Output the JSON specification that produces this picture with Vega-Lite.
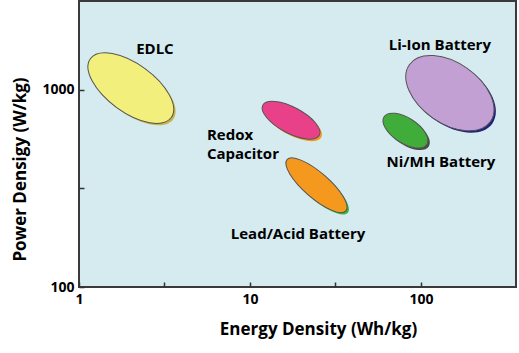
{
  "$schema": "https://vega.github.io/schema/vega-lite/v6.json",
  "autosize": {"type": "none"},
  "padding": {"left": 79, "top": 1, "right": 3, "bottom": 66},
  "width": 437,
  "height": 286,
  "config": {
    "font": "Open Sans",
    "view": {"fill": "#d5ebf0", "stroke": "#3a3a3a", "strokeWidth": 2},
    "axis": {
      "domain": false, "grid": false,
      "tickColor": "#333333", "tickSize": -5, "tickWidth": 1.5,
      "labelPadding": 10, "labelFont": "Open Sans", "labelFontWeight": "bold",
      "labelFontSize": 14, "labelColor": "#000000",
      "titleFont": "Open Sans", "titleFontWeight": "bold", "titleFontSize": 17, "titleColor": "#000000"
    }
  },
  "datasets": {
    "ellipses": [
      {"name": "EDLC", "energy": 2.01, "power": 1020},
      {"name": "Redox", "energy": 17.4, "power": 701},
      {"name": "Lead", "energy": 24.5, "power": 328},
      {"name": "LiIon", "energy": 147.8, "power": 962},
      {"name": "NiMH", "energy": 81.2, "power": 621}
    ],
    "labels": [
      {"label": "EDLC", "energy": 2.78, "power": 1610},
      {"label": "Li-Ion Battery", "energy": 129, "power": 1687},
      {"label": "Ni/MH Battery", "energy": 131, "power": 430},
      {"label": "Lead/Acid Battery", "energy": 19.1, "power": 185}
    ],
    "labels2": [
      {"label": "Redox\nCapacitor", "energy": 5.6, "power": 590}
    ]
  },
  "data": {"name": "ellipses"},
  "encoding": {
    "x": {
      "field": "energy", "type": "quantitative",
      "scale": {"type": "log", "domain": [1, 360], "nice": false, "zero": false},
      "axis": {
        "title": "Energy Density (Wh/kg)", "titlePadding": 15, "titleX": 239, "titleAnchor": "start", "titleAlign": "center",
        "values": [1, 3.1623, 10, 31.623, 100],
        "labelExpr": "(datum.value == 1 || datum.value == 10 || datum.value == 100) ? datum.value : ''",
        "labelFlush": false
      }
    },
    "y": {
      "field": "power", "type": "quantitative",
      "scale": {"type": "log", "domain": [100, 2820], "nice": false, "zero": false},
      "axis": {
        "title": "Power Densigy (W/kg)", "titlePadding": 12, "titleY": 168, "titleAnchor": "start", "titleAlign": "center",
        "values": [100, 316.23, 1000],
        "labelExpr": "(datum.value == 100 || datum.value == 1000) ? datum.value : ''",
        "labelFlush": false
      }
    }
  },
  "layer": [
    {"transform": [{"filter": "datum.name == 'EDLC'"}],
     "mark": {"type": "point", "filled": true, "opacity": 1, "fill": "#c9b64a", "strokeWidth": 0, "size": 10000, "angle": 36,
       "shape": "M 1.054 0.009 C 1.054 0.2747 0.6063 0.49 0.054 0.49 C -0.4983 0.49 -0.946 0.2747 -0.946 0.009 C -0.946 -0.2567 -0.4983 -0.472 0.054 -0.472 C 0.6063 -0.472 1.054 -0.2567 1.054 0.009 Z"}},
    {"transform": [{"filter": "datum.name == 'EDLC'"}],
     "mark": {"type": "point", "filled": true, "opacity": 1, "fill": "#f3ef7c", "stroke": "#555555", "strokeWidth": 1, "size": 10000, "angle": 36,
       "shape": "M 1 0 C 1 0.2657 0.5523 0.481 0 0.481 C -0.5523 0.481 -1 0.2657 -1 0 C -1 -0.2657 -0.5523 -0.481 0 -0.481 C 0.5523 -0.481 1 -0.2657 1 0 Z"}},
    {"transform": [{"filter": "datum.name == 'Redox'"}],
     "mark": {"type": "point", "filled": true, "opacity": 1, "fill": "#f39a1e", "strokeWidth": 0, "size": 4096, "angle": 28,
       "shape": "M 1.085 0.026 C 1.085 0.2502 0.6373 0.432 0.085 0.432 C -0.4673 0.432 -0.915 0.2502 -0.915 0.026 C -0.915 -0.1982 -0.4673 -0.38 0.085 -0.38 C 0.6373 -0.38 1.085 -0.1982 1.085 0.026 Z"}},
    {"transform": [{"filter": "datum.name == 'Redox'"}],
     "mark": {"type": "point", "filled": true, "opacity": 1, "fill": "#e8418a", "stroke": "#555555", "strokeWidth": 1, "size": 4096, "angle": 28,
       "shape": "M 1 0 C 1 0.2242 0.5523 0.406 0 0.406 C -0.5523 0.406 -1 0.2242 -1 0 C -1 -0.2242 -0.5523 -0.406 0 -0.406 C 0.5523 -0.406 1 -0.2242 1 0 Z"}},
    {"transform": [{"filter": "datum.name == 'Lead'"}],
     "mark": {"type": "point", "filled": true, "opacity": 1, "fill": "#3cb43c", "strokeWidth": 0, "size": 6084, "angle": 41,
       "shape": "M 1.071 0.005 C 1.071 0.1845 0.6233 0.33 0.071 0.33 C -0.4813 0.33 -0.929 0.1845 -0.929 0.005 C -0.929 -0.1745 -0.4813 -0.32 0.071 -0.32 C 0.6233 -0.32 1.071 -0.1745 1.071 0.005 Z"}},
    {"transform": [{"filter": "datum.name == 'Lead'"}],
     "mark": {"type": "point", "filled": true, "opacity": 1, "fill": "#f4981e", "stroke": "#555555", "strokeWidth": 1, "size": 6084, "angle": 41,
       "shape": "M 1 0 C 1 0.1795 0.5523 0.325 0 0.325 C -0.5523 0.325 -1 0.1795 -1 0 C -1 -0.1795 -0.5523 -0.325 0 -0.325 C 0.5523 -0.325 1 -0.1795 1 0 Z"}},
    {"transform": [{"filter": "datum.name == 'LiIon'"}],
     "mark": {"type": "point", "filled": true, "opacity": 1, "fill": "#22227a", "strokeWidth": 0, "size": 9800, "angle": 35,
       "shape": "M 1.056 0.01 C 1.056 0.3469 0.6083 0.62 0.056 0.62 C -0.4963 0.62 -0.944 0.3469 -0.944 0.01 C -0.944 -0.3269 -0.4963 -0.6 0.056 -0.6 C 0.6083 -0.6 1.056 -0.3269 1.056 0.01 Z"}},
    {"transform": [{"filter": "datum.name == 'LiIon'"}],
     "mark": {"type": "point", "filled": true, "opacity": 1, "fill": "#c3a0d3", "stroke": "#555555", "strokeWidth": 1, "size": 9800, "angle": 35,
       "shape": "M 1 0 C 1 0.3369 0.5523 0.61 0 0.61 C -0.5523 0.61 -1 0.3369 -1 0 C -1 -0.3369 -0.5523 -0.61 0 -0.61 C 0.5523 -0.61 1 -0.3369 1 0 Z"}},
    {"transform": [{"filter": "datum.name == 'NiMH'"}],
     "mark": {"type": "point", "filled": true, "opacity": 1, "fill": "#4a4a4a", "strokeWidth": 0, "size": 2601, "angle": 33,
       "shape": "M 1.109 0.023 C 1.109 0.2958 0.6613 0.517 0.109 0.517 C -0.4433 0.517 -0.891 0.2958 -0.891 0.023 C -0.891 -0.2498 -0.4433 -0.471 0.109 -0.471 C 0.6613 -0.471 1.109 -0.2498 1.109 0.023 Z"}},
    {"transform": [{"filter": "datum.name == 'NiMH'"}],
     "mark": {"type": "point", "filled": true, "opacity": 1, "fill": "#40ad3a", "stroke": "#555555", "strokeWidth": 1, "size": 2601, "angle": 33,
       "shape": "M 1 0 C 1 0.2728 0.5523 0.494 0 0.494 C -0.5523 0.494 -1 0.2728 -1 0 C -1 -0.2728 -0.5523 -0.494 0 -0.494 C 0.5523 -0.494 1 -0.2728 1 0 Z"}},
    {"data": {"name": "labels"},
     "mark": {"type": "text", "font": "Open Sans", "fontWeight": "bold", "fontSize": 15, "color": "#000000", "align": "center", "baseline": "middle"},
     "encoding": {"text": {"field": "label"}}},
    {"data": {"name": "labels2"},
     "mark": {"type": "text", "font": "Open Sans", "fontWeight": "bold", "fontSize": 15, "color": "#000000", "align": "left", "baseline": "middle", "lineBreak": "\n", "lineHeight": 19},
     "encoding": {"text": {"field": "label"}}}
  ]
}
